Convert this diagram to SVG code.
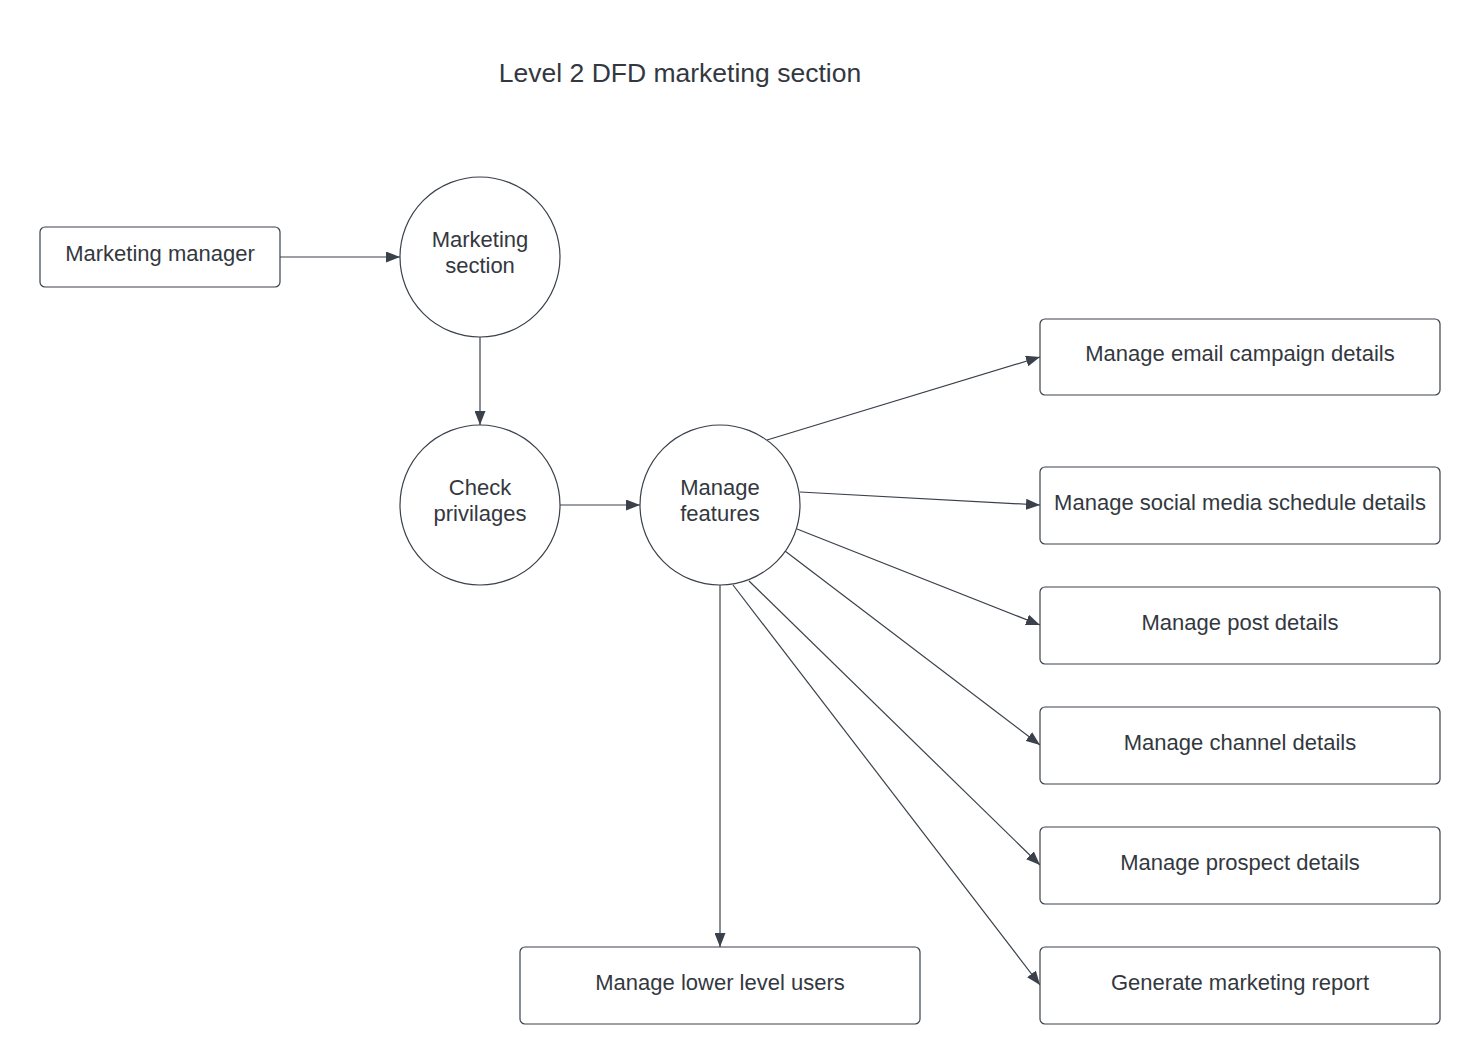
<svg xmlns="http://www.w3.org/2000/svg" width="1480" height="1064" viewBox="0 0 1480 1064">
<defs>
<style>
.n{fill:#ffffff;stroke:#3a414a;stroke-width:1.2}
.t{font-family:"Liberation Sans",Arial,sans-serif;font-size:22px;fill:#333840;text-anchor:middle}
.title{font-family:"Liberation Sans",Arial,sans-serif;font-size:26.5px;fill:#333840;text-anchor:middle}
.c{fill:none;stroke:#3a414a;stroke-width:1.2;marker-end:url(#ah)}
</style>
<marker id="ah" viewBox="0 0 14 11" refX="14" refY="5.5" markerWidth="14" markerHeight="11" markerUnits="userSpaceOnUse" orient="auto">
<path d="M0,0 L14,5.5 L0,11 Z" fill="#3a414a"/>
</marker>
</defs>
<rect width="1480" height="1064" fill="#ffffff"/>
<text class="title" x="680" y="82">Level 2 DFD marketing section</text>
<g id="connectors">
<line class="c" x1="280" y1="257" x2="400" y2="257"/>
<line class="c" x1="480" y1="337" x2="480" y2="425"/>
<line class="c" x1="560" y1="505" x2="640" y2="505"/>
<line class="c" x1="767" y1="440" x2="1040" y2="357"/>
<line class="c" x1="800" y1="492" x2="1040" y2="505"/>
<line class="c" x1="797" y1="529" x2="1040" y2="625"/>
<line class="c" x1="785" y1="551" x2="1040" y2="745"/>
<line class="c" x1="749" y1="581" x2="1040" y2="865"/>
<line class="c" x1="733" y1="585" x2="1040" y2="985"/>
<line class="c" x1="720" y1="585" x2="720" y2="947"/>
</g>
<g id="marketing-manager">
<rect class="n" x="40" y="227" width="240" height="60" rx="5"/>
<text class="t" x="160" y="261">Marketing manager</text>
</g>
<g id="marketing-section">
<circle class="n" cx="480" cy="257" r="80"/>
<text class="t" x="480" y="247">Marketing</text>
<text class="t" x="480" y="273">section</text>
</g>
<g id="check-privilages">
<circle class="n" cx="480" cy="505" r="80"/>
<text class="t" x="480" y="495">Check</text>
<text class="t" x="480" y="521">privilages</text>
</g>
<g id="manage-features">
<circle class="n" cx="720" cy="505" r="80"/>
<text class="t" x="720" y="495">Manage</text>
<text class="t" x="720" y="521">features</text>
</g>
<g id="email-campaign">
<rect class="n" x="1040" y="319" width="400" height="76" rx="5"/>
<text class="t" x="1240" y="361">Manage email campaign details</text>
</g>
<g id="social-media">
<rect class="n" x="1040" y="467" width="400" height="77" rx="5"/>
<text class="t" x="1240" y="510">Manage social media schedule details</text>
</g>
<g id="post-details">
<rect class="n" x="1040" y="587" width="400" height="77" rx="5"/>
<text class="t" x="1240" y="630">Manage post details</text>
</g>
<g id="channel-details">
<rect class="n" x="1040" y="707" width="400" height="77" rx="5"/>
<text class="t" x="1240" y="750">Manage channel details</text>
</g>
<g id="prospect-details">
<rect class="n" x="1040" y="827" width="400" height="77" rx="5"/>
<text class="t" x="1240" y="870">Manage prospect details</text>
</g>
<g id="marketing-report">
<rect class="n" x="1040" y="947" width="400" height="77" rx="5"/>
<text class="t" x="1240" y="990">Generate marketing report</text>
</g>
<g id="lower-level-users">
<rect class="n" x="520" y="947" width="400" height="77" rx="5"/>
<text class="t" x="720" y="990">Manage lower level users</text>
</g>
</svg>
